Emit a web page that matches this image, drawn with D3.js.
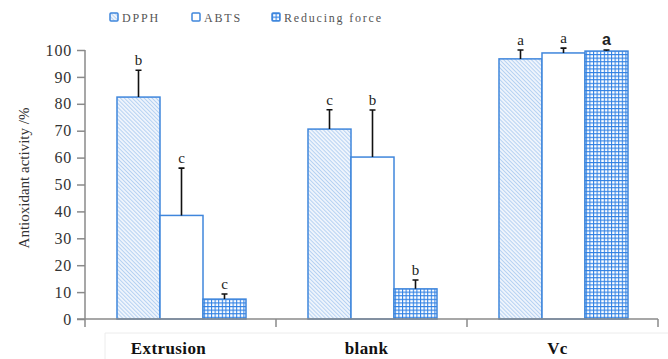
<!DOCTYPE html>
<html>
<head>
  <meta charset="utf-8">
  <style>
    body { margin: 0; background: #fff; }
    text { font-family: "Liberation Serif", "DejaVu Serif", serif; }
  </style>
  <title>Antioxidant activity</title>
</head>
<body>
  <script src="https://cdn.jsdelivr.net/npm/d3@7"></script>
  <script>
    // data
    var categories = ["Extrusion", "blank", "Vc"];
    var series = ["DPPH", "ABTS", "Reducing force"];
    var dpph = [82.5, 70.6, 96.7];
    var dpphErr = [10, 7.2, 3.3];
    var abts = [38.5, 60.2, 98.9];
    var abtsErr = [17.6, 17.5, 1.8];
    var reducing = [7.4, 11.2, 99.6];
    var reducingErr = [1.9, 3.3, 0.4];
    var dpphLetters = ["b", "c", "a"];
    var abtsLetters = ["c", "b", "a"];
    var reducingLetters = ["c", "b", "a"];
    var yTicks = [0, 10, 20, 30, 40, 50, 60, 70, 80, 90, 100];

    var width = 668, height = 359;
    var plotLeft = 85, plotRight = 658, plotTop = 50, plotBottom = 319;

    var svg = d3.select("body").append("svg")
      .attr("width", width)
      .attr("height", height);

    // patterns
    var defs = svg.append("defs");
    var hatch = defs.append("pattern")
      .attr("id", "hatch")
      .attr("patternUnits", "userSpaceOnUse")
      .attr("width", 2.8).attr("height", 2.8)
      .attr("patternTransform", "rotate(-45)");
    hatch.append("rect").attr("width", 2.8).attr("height", 2.8).attr("fill", "#eef4fc");
    hatch.append("line").attr("x1", 0).attr("y1", 0).attr("x2", 0).attr("y2", 2.8)
      .attr("stroke", "#8db9ec").attr("stroke-width", 1.1);

    var grid = defs.append("pattern")
      .attr("id", "grid")
      .attr("patternUnits", "userSpaceOnUse")
      .attr("width", 3.6).attr("height", 3.6);
    grid.append("rect").attr("width", 3.6).attr("height", 3.6).attr("fill", "#fff");
    grid.append("path").attr("d", "M0,0.5H3.6M0.5,0V3.6")
      .attr("stroke", "#2f80e3").attr("stroke-width", 1.1).attr("fill", "none");

    var fills = ["url(#hatch)", "#fff", "url(#grid)"];

    var table = categories.map(function(c, i) {
      return [
        { cat: c, s: 0, v: dpph[i], e: dpphErr[i], l: dpphLetters[i] },
        { cat: c, s: 1, v: abts[i], e: abtsErr[i], l: abtsLetters[i] },
        { cat: c, s: 2, v: reducing[i], e: reducingErr[i], l: reducingLetters[i] }
      ];
    });

    var x0 = d3.scaleBand().domain(categories).range([plotLeft, plotRight]);
    var x1 = d3.scaleBand().domain(d3.range(series.length)).range([32, x0.bandwidth() - 30]);
    var y = d3.scaleLinear().domain([0, 100]).range([plotBottom, plotTop]);

    // faint box under the axis
    svg.append("path")
      .attr("d", "M105,359V333H668")
      .attr("fill", "none")
      .attr("stroke", "#ececec");

    // bars
    var groups = svg.selectAll("g.cat")
      .data(table)
      .enter().append("g")
      .attr("class", "cat")
      .attr("transform", function(d, i) { return "translate(" + x0(categories[i]) + ",0)"; });

    groups.selectAll("rect")
      .data(function(d) { return d; })
      .enter().append("rect")
      .attr("x", function(d) { return x1(d.s); })
      .attr("y", function(d) { return y(d.v); })
      .attr("width", x1.bandwidth())
      .attr("height", function(d) { return y(0) - y(d.v); })
      .attr("fill", function(d) { return fills[d.s]; })
      .attr("stroke", "#3f86dc")
      .attr("stroke-width", 1.5);

    // error bars
    groups.selectAll("path.err")
      .data(function(d) { return d; })
      .enter().append("path")
      .attr("class", "err")
      .attr("d", function(d) {
        var cx = x1(d.s) + x1.bandwidth() / 2;
        return "M" + cx + "," + y(d.v) + "V" + y(d.v + d.e) +
          "M" + (cx - 3) + "," + y(d.v + d.e) + "H" + (cx + 3);
      })
      .attr("stroke", "#111")
      .attr("stroke-width", 1.6)
      .attr("fill", "none");

    // significance letters
    groups.selectAll("text.sig")
      .data(function(d) { return d; })
      .enter().append("text")
      .attr("class", "sig")
      .attr("x", function(d) { return x1(d.s) + x1.bandwidth() / 2; })
      .attr("y", function(d) { return y(d.v + d.e) - 5; })
      .attr("text-anchor", "middle")
      .attr("fill", "#222")
      .style("font-size", function(d) { return d.cat === "Vc" && d.s === 2 ? "16px" : "15px"; })
      .style("font-weight", function(d) { return d.cat === "Vc" && d.s === 2 ? "bold" : "normal"; })
      .style("font-family", function(d) { return d.cat === "Vc" && d.s === 2 ? "'Liberation Sans', Arial, sans-serif" : null; })
      .text(function(d) { return d.l; });

    // y axis
    var yAxis = d3.axisLeft(y).tickValues(yTicks).tickSize(8).tickPadding(5);
    var ya = svg.append("g")
      .attr("transform", "translate(" + plotLeft + ",0)")
      .call(yAxis)
      .attr("font-family", null);
    ya.select(".domain").attr("d", "M0," + plotTop + "V" + (plotBottom + 8));
    ya.selectAll("line, path").attr("stroke", "#8a8a8a").attr("stroke-width", 1.5);
    ya.selectAll("text")
      .attr("fill", "#333")
      .style("font-size", "16px")
      .style("font-family", "'Liberation Serif', serif")
      .style("letter-spacing", "0.8px");

    // x axis
    var xa = svg.append("g");
    xa.append("line")
      .attr("x1", plotLeft - 8).attr("x2", plotRight)
      .attr("y1", y(0)).attr("y2", y(0))
      .attr("stroke", "#8a8a8a").attr("stroke-width", 1.5);
    xa.selectAll("line.tick")
      .data(categories.slice(1).concat(["end"]))
      .enter().append("line")
      .attr("class", "tick")
      .attr("x1", function(d) { return d === "end" ? plotRight : x0(d); })
      .attr("x2", function(d) { return d === "end" ? plotRight : x0(d); })
      .attr("y1", y(0)).attr("y2", y(0) + 8)
      .attr("stroke", "#8a8a8a").attr("stroke-width", 1.5);

    xa.selectAll("text")
      .data(categories)
      .enter().append("text")
      .attr("x", function(d) { return x0(d) + x0.bandwidth() / 2 - 5 + (d === "Extrusion" ? -7 : 0); })
      .attr("y", 354)
      .attr("text-anchor", "middle")
      .attr("fill", "#111")
      .style("font-size", "17px")
      .style("font-weight", "bold")
      .style("letter-spacing", "0.4px")
      .text(function(d) { return d; });

    // y label
    svg.append("text")
      .attr("transform", "translate(29,178) rotate(-90)")
      .attr("text-anchor", "middle")
      .attr("fill", "#333")
      .style("font-size", "15px")
      .text("Antioxidant activity /%");

    // legend
    var legendX = [110, 192, 272];
    var lg = svg.selectAll("g.legend")
      .data(series)
      .enter().append("g")
      .attr("class", "legend")
      .attr("transform", function(d, i) { return "translate(" + legendX[i] + ",13)"; });
    lg.append("rect")
      .attr("width", 8).attr("height", 8).attr("rx", 1)
      .attr("fill", function(d, i) { return fills[i]; })
      .attr("stroke", "#3f86dc").attr("stroke-width", 1.5);
    lg.append("text")
      .attr("x", 12).attr("y", 8.5)
      .attr("fill", "#555")
      .style("font-size", "12px")
      .style("letter-spacing", "1.8px")
      .text(function(d) { return d; });
  </script>
</body>
</html>
